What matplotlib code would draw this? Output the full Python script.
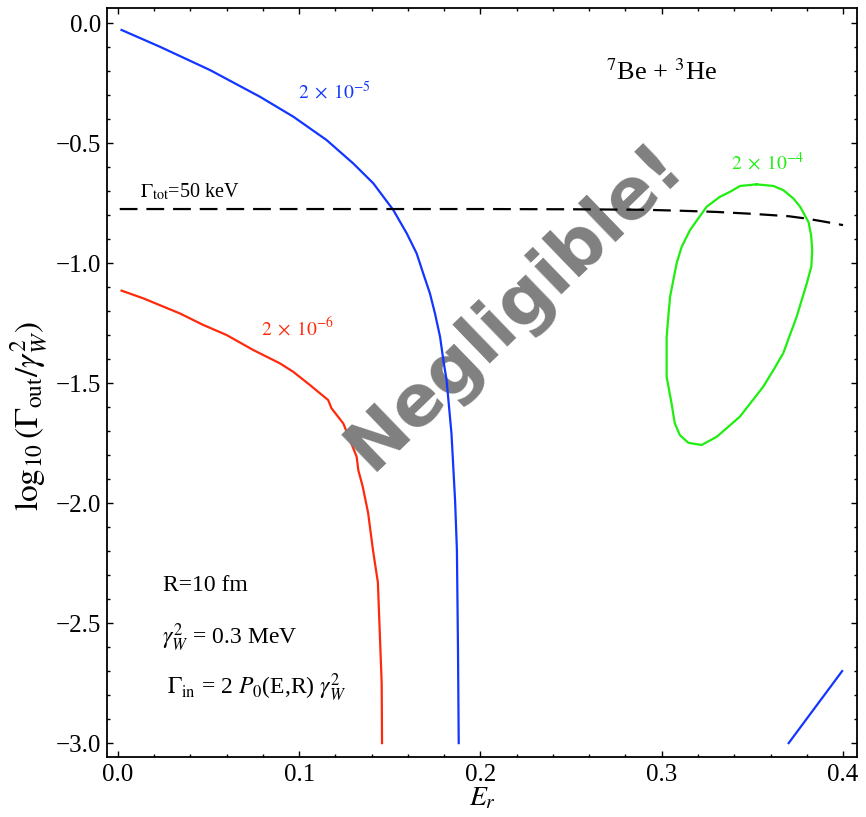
import matplotlib
matplotlib.use("Agg")
import matplotlib.pyplot as plt
from matplotlib.ticker import MultipleLocator

plt.rcParams['font.family'] = ['Liberation Serif', 'DejaVu Serif']
plt.rcParams['mathtext.fontset'] = 'stix'

# --- data ---
blue_x = [0.002, 0.0232, 0.0508, 0.0783, 0.0967, 0.1151, 0.1298, 0.1409, 0.1519, 0.1593, 0.1648, 0.1684,
          0.1721, 0.1749, 0.1777, 0.1795, 0.1813, 0.184, 0.186, 0.187, 0.1876, 0.188]
blue_y = [-0.029, -0.099, -0.196, -0.307, -0.390, -0.4875, -0.585, -0.668, -0.779, -0.876, -0.96, -1.043,
          -1.126, -1.21, -1.307, -1.404, -1.4875, -1.71, -1.99, -2.196, -2.61, -3.0]

blue2_x = [0.370, 0.3995]
blue2_y = [-3.0, -2.70]

red_x = [0.002, 0.014, 0.0342, 0.0471, 0.06, 0.0747, 0.0894, 0.0967, 0.1059, 0.116, 0.1178, 0.1243, 0.128,
         0.1317, 0.1326, 0.135, 0.138, 0.1407, 0.1434, 0.1455, 0.1457]
red_y = [-1.115, -1.147, -1.21, -1.258, -1.30, -1.3625, -1.418, -1.453, -1.508, -1.571, -1.605, -1.668, -1.7375,
         -1.807, -1.8625, -1.93, -2.04, -2.196, -2.33, -2.75, -3.0]

green_x = [0.3522, 0.3432, 0.3377, 0.3321, 0.3248, 0.3156, 0.311, 0.3082, 0.3046, 0.3036, 0.3027, 0.3027,
           0.3054, 0.3072, 0.310, 0.3147, 0.322, 0.3303, 0.3367, 0.3431, 0.356, 0.3616, 0.367, 0.3744, 0.380,
           0.3825, 0.3830, 0.3824, 0.3810, 0.3763, 0.3726, 0.367, 0.3616, 0.3522]
green_y = [-0.672, -0.679, -0.703, -0.724, -0.765, -0.8625, -0.932, -1.001, -1.14, -1.224, -1.307, -1.474,
           -1.585, -1.668, -1.717, -1.749, -1.758, -1.724, -1.682, -1.640, -1.515, -1.446, -1.376, -1.224, -1.085,
           -1.015, -0.946, -0.885, -0.830, -0.765, -0.731, -0.696, -0.679, -0.672]

dash_x = [0.001, 0.1, 0.2, 0.25, 0.29, 0.31, 0.33, 0.35, 0.37, 0.38, 0.39, 0.40]
dash_y = [-0.775, -0.775, -0.775, -0.776, -0.778, -0.782, -0.787, -0.795, -0.805, -0.815, -0.828, -0.842]

x_ticks = [0.0, 0.1, 0.2, 0.3, 0.4]
x_ticklabels = ['0.0', '0.1', '0.2', '0.3', '0.4']
y_ticks = [0.0, -0.5, -1.0, -1.5, -2.0, -2.5, -3.0]
y_ticklabels = ['0.0', '\u22120.5', '\u22121.0', '\u22121.5', '\u22122.0', '\u22122.5', '\u22123.0']

BLUE = '#1236ff'
RED = '#ff2a0c'
GREEN = '#1fee10'

fig = plt.figure(figsize=(8.66, 8.17), dpi=100)
ax = fig.add_axes([0.1236, 0.0734, 0.866, 0.9168])

ax.plot(red_x, red_y, color=RED, lw=1.6, zorder=2)
ax.plot(blue_x, blue_y, color=BLUE, lw=1.6, zorder=4)
ax.plot(blue2_x, blue2_y, color=BLUE, lw=1.6, zorder=4)
ax.plot(green_x, green_y, color=GREEN, lw=1.6, zorder=4)
ax.plot(dash_x, dash_y, color='black', lw=1.6, dashes=(8, 4), zorder=5)

ax.text(0.219, -1.18, 'Negligible!', rotation=44, color='#808080', fontsize=51,
        fontweight='bold', family='DejaVu Sans', ha='center', va='center',
        rotation_mode='anchor', zorder=3)

ax.text(0.2996, -0.204, r'$^7$Be + $^3$He', fontsize=19, ha='center', va='center')
ax.text(0.1197, -0.2875, r'$2\;\times\;10^{-5}$', color=BLUE, fontsize=14, ha='center', va='center')
ax.text(0.3586, -0.583, r'$2\;\times\;10^{-4}$', color=GREEN, fontsize=14, ha='center', va='center')
ax.text(0.0993, -1.27, r'$2\;\times\;10^{-6}$', color=RED, fontsize=14, ha='center', va='center')
ax.text(0.0121, -0.704, r'$\Gamma_{\rm tot}$=50 keV', fontsize=14.5, ha='left', va='center')
ax.text(0.0248, -2.342, 'R=10 fm', fontsize=17, ha='left', va='center')
ax.text(0.0243, -2.5625, r'$\gamma_W^2$ = 0.3 MeV', fontsize=17, ha='left', va='center')
ax.text(0.027, -2.77, r'$\Gamma_{\rm in}$ = 2 $P_0$(E,R) $\gamma_W^2$', fontsize=17, ha='left', va='center')

ax.set_xlim(-0.006, 0.4077)
ax.set_ylim(-3.058, 0.0625)
ax.set_xticks(x_ticks)
ax.set_xticklabels(x_ticklabels)
ax.set_yticks(y_ticks)
ax.set_yticklabels(y_ticklabels)
ax.xaxis.set_minor_locator(MultipleLocator(0.02))
ax.yaxis.set_minor_locator(MultipleLocator(0.1))
ax.tick_params(which='both', direction='in', top=True, right=True, labelsize=18, width=1.0)
ax.tick_params(which='major', length=4)
ax.tick_params(which='minor', length=2.2)
ax.tick_params(axis='x', pad=5)
ax.tick_params(axis='y', pad=4)
for s in ax.spines.values():
    s.set_linewidth(1.3)

ax.set_xlabel(r'$E_r$', fontsize=20, labelpad=0)
ax.set_ylabel(r'$\log_{10}(\Gamma_{\rm out}/\gamma_W^2)$', fontsize=24)
ax.yaxis.set_label_coords(-0.078, 0.455)

fig.savefig('out.png', dpi=100)
